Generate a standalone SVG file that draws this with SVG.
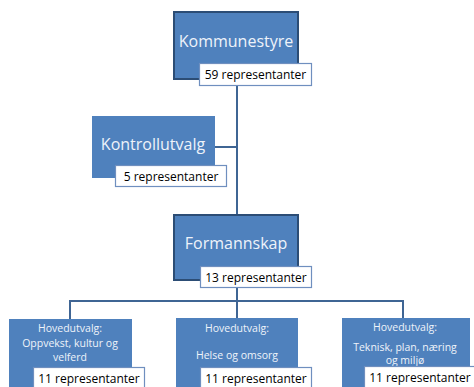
<svg xmlns="http://www.w3.org/2000/svg" width="474" height="387" viewBox="0 0 474 387">
<style>
.box{fill:#4f81bd}
.main{stroke:#2c4d75;stroke-width:2}
.lbl{fill:#ffffff;stroke:#6f8fbf;stroke-width:1.2}
.t{font-family:"Open Sans","Liberation Sans",sans-serif;fill:#eef3fa;text-anchor:middle}
.big{font-size:16px}
.sm{font-size:10.5px}
.lt{font-family:"Open Sans","Liberation Sans",sans-serif;font-size:12px;fill:#000;text-anchor:middle}
.c{fill:none;stroke:#3f6594;stroke-width:2}
</style>
<rect width="474" height="387" fill="#ffffff"/>
<g id="connectors">
<path class="c" d="M237 86V215"/>
<path class="c" d="M215 147H237"/>
<path class="c" d="M237 287V318"/>
<path class="c" d="M70 319V301H403V318"/>
</g>
<g id="kommunestyre">
<rect class="box main" x="174" y="12" width="124" height="67"/>
<text class="t big" x="236" y="47">Kommunestyre</text>
<rect class="lbl" x="199.5" y="63.5" width="112" height="22"/>
<text class="lt" x="255.5" y="79">59 representanter</text>
</g>
<g id="kontrollutvalg">
<rect class="box" x="92" y="116" width="123" height="62"/>
<text class="t big" x="153" y="150">Kontrollutvalg</text>
<rect class="lbl" x="115.5" y="165.5" width="111" height="21"/>
<text class="lt" x="171" y="180.5">5 representanter</text>
</g>
<g id="formannskap">
<rect class="box main" x="174" y="215" width="124" height="65"/>
<text class="t big" x="236" y="249">Formannskap</text>
<rect class="lbl" x="200.5" y="266.5" width="111" height="21"/>
<text class="lt" x="256" y="281.5">13 representanter</text>
</g>
<g id="hu-oppvekst">
<rect class="box" x="9" y="319" width="123" height="70"/>
<text class="t sm" x="70" y="332">Hovedutvalg:</text>
<text class="t sm" x="70" y="347">Oppvekst, kultur og</text>
<text class="t sm" x="70" y="361">velferd</text>
<rect class="lbl" x="33.5" y="367.5" width="111" height="22"/>
<text class="lt" x="89" y="383">11 representanter</text>
</g>
<g id="hu-helse">
<rect class="box" x="176" y="318" width="122" height="71"/>
<text class="t sm" x="237" y="332">Hovedutvalg:</text>
<text class="t sm" x="237" y="359">Helse og omsorg</text>
<rect class="lbl" x="200.5" y="367.5" width="111" height="22"/>
<text class="lt" x="256" y="383">11 representanter</text>
</g>
<g id="hu-teknisk">
<rect class="box" x="342" y="318" width="128" height="71"/>
<text class="t sm" x="405" y="331">Hovedutvalg:</text>
<text class="t sm" x="405" y="351">Teknisk, plan, næring</text>
<text class="t sm" x="405" y="364">og miljø</text>
<rect class="lbl" x="364.5" y="366.5" width="112" height="22"/>
<text class="lt" x="420" y="382">11 representanter</text>
</g>
</svg>
